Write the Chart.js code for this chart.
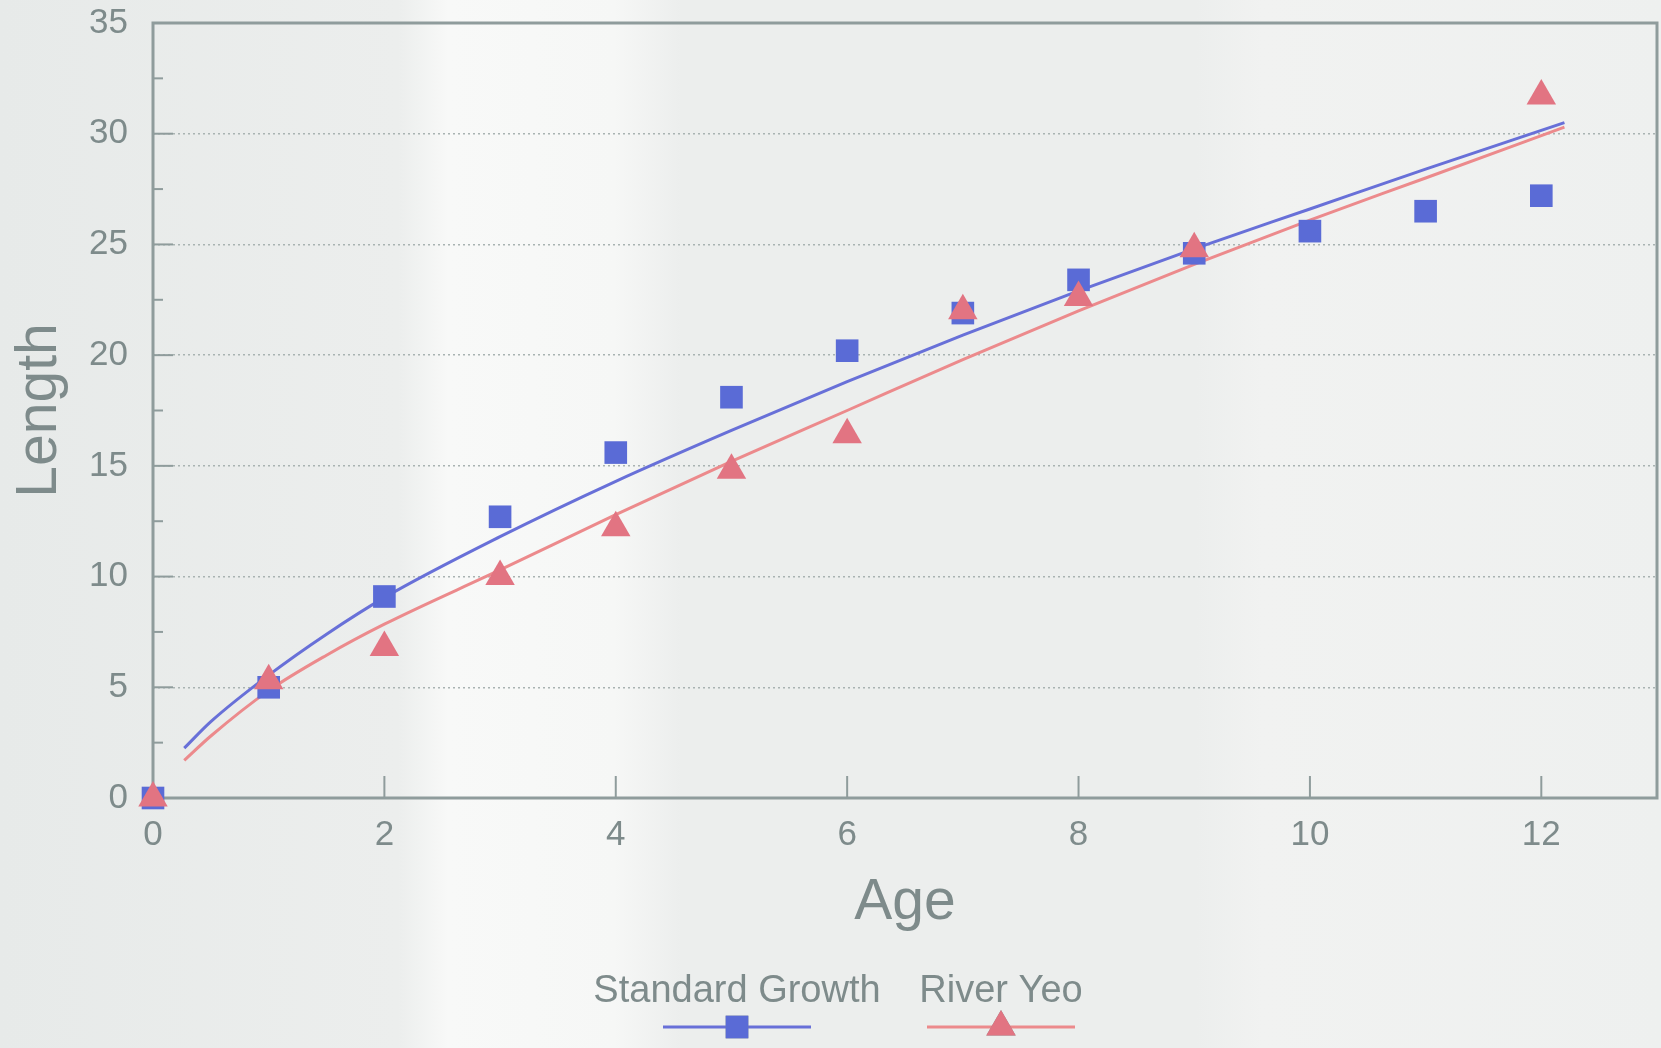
<!DOCTYPE html>
<html><head><meta charset="utf-8">
<script src="https://cdn.jsdelivr.net/npm/chart.js@4.4.1/dist/chart.umd.min.js"></script>
<style>html,body{margin:0;padding:0;background:#eceeed;}canvas{display:block}</style>
</head>
<body><canvas id="c" width="1661" height="1048"></canvas>
<script>
// ---- data ----
const ages = [0,1,2,3,4,5,6,7,8,9,10,11,12];
const standardGrowth = [0,5.0,9.1,12.7,15.6,18.1,20.2,21.9,23.4,24.6,25.6,26.5,27.2];
const riverYeoAges = [0,1,2,3,4,5,6,7,8,9,12];
const riverYeo = [0,5.3,6.8,10.0,12.2,14.8,16.4,22.0,22.6,24.8,31.7];
const fitAges = [0.27,0.5,1,1.5,2,3,4,5,6,7,8,9,10,11,12.2];
const standardFit = [2.25,3.45,5.55,7.4,9.05,11.8,14.3,16.6,18.8,20.9,22.9,24.8,26.6,28.4,30.5];
const riverYeoFit = [1.7,2.8,4.85,6.45,7.85,10.3,12.8,15.2,17.5,19.8,22.0,24.1,26.1,28.0,30.3];
const xTicks = [0,2,4,6,8,10,12];
const yTicks = [0,5,10,15,20,25,30,35];
const seriesNames = ['Standard Growth','River Yeo'];
const xTitle = 'Age';
const yTitle = 'Length';

// ---- styles ----
const TEXT = '#7e8b8b';
const FRAME = '#8f9c9c';
const GRID = '#a9b3b2';
const BLUE_PT = '#5a6bd6';
const RED_PT = '#e27482';
const BLUE_LN = '#6870d8';
const RED_LN = '#ec8a8c';
const FONT = '"Liberation Sans", Arial, Helvetica, sans-serif';

const pts = (xs, ys) => xs.map((x, i) => ({x, y: ys[i]}));

const bgPlugin = {
  id: 'bg',
  beforeDraw(chart) {
    const {ctx, width, height} = chart;
    const g = ctx.createLinearGradient(0, 0, width, 0);
    g.addColorStop(0, '#e7eae9');
    g.addColorStop(0.24, '#eceeed');
    g.addColorStop(0.27, '#f8f9f8');
    g.addColorStop(0.37, '#f6f7f6');
    g.addColorStop(0.41, '#eceeed');
    g.addColorStop(0.72, '#eceeed');
    g.addColorStop(0.76, '#f1f2f1');
    g.addColorStop(1, '#eef0ef');
    ctx.save();
    ctx.fillStyle = g;
    ctx.fillRect(0, 0, width, height);
    ctx.restore();
  }
};

const framePlugin = {
  id: 'frame',
  beforeDatasetsDraw(chart) {
    const {ctx, chartArea: a, scales: {x, y}} = chart;
    ctx.save();
    ctx.strokeStyle = FRAME;
    ctx.lineWidth = 3;
    ctx.strokeRect(a.left, a.top, a.right - a.left, a.bottom - a.top);
    ctx.lineWidth = 2;
    yTicks.forEach((v, i) => {
      if (v > 0 && v < 35) {
        const py = y.getPixelForValue(v);
        ctx.beginPath(); ctx.moveTo(a.left, py); ctx.lineTo(a.left + 20, py); ctx.stroke();
      }
      if (i < yTicks.length - 1) {
        const pm = y.getPixelForValue((v + yTicks[i + 1]) / 2);
        ctx.beginPath(); ctx.moveTo(a.left, pm); ctx.lineTo(a.left + 10, pm); ctx.stroke();
      }
    });
    xTicks.forEach(v => {
      if (v > 0) {
        const px = x.getPixelForValue(v);
        ctx.beginPath(); ctx.moveTo(px, a.bottom); ctx.lineTo(px, a.bottom - 22); ctx.stroke();
      }
    });
    ctx.restore();
  }
};

const legendPlugin = {
  id: 'customLegend',
  afterDraw(chart) {
    const {ctx} = chart;
    const entries = [
      {cx: 737, ds: chart.data.datasets[1], line: chart.data.datasets[3]},
      {cx: 1001, ds: chart.data.datasets[0], line: chart.data.datasets[2]}
    ];
    ctx.save();
    entries.forEach(e => {
      ctx.fillStyle = TEXT;
      ctx.font = '38px ' + FONT;
      ctx.textAlign = 'center';
      ctx.textBaseline = 'middle';
      ctx.fillText(e.ds.label, e.cx, 992);
      ctx.strokeStyle = e.line.borderColor;
      ctx.lineWidth = 3;
      ctx.beginPath(); ctx.moveTo(e.cx - 74, 1027); ctx.lineTo(e.cx + 74, 1027); ctx.stroke();
      Chart.helpers.drawPoint(ctx, {pointStyle: e.ds.pointStyle, radius: e.ds.pointRadius, borderWidth: 0, rotation: 0}, e.cx, 1027);
      ctx.fillStyle = e.ds.backgroundColor;
      ctx.fill();
    });
    ctx.restore();
  }
};

new Chart(document.getElementById('c'), {
  type: 'scatter',
  data: {
    datasets: [
      {label: seriesNames[1], data: pts(riverYeoAges, riverYeo), pointStyle: 'triangle', pointRadius: 17,
       backgroundColor: RED_PT, pointBorderWidth: 0, borderWidth: 0, showLine: false, order: 0, clip: false},
      {label: seriesNames[0], data: pts(ages, standardGrowth), pointStyle: 'rect', pointRadius: 16,
       backgroundColor: BLUE_PT, pointBorderWidth: 0, borderWidth: 0, showLine: false, order: 1, clip: false},
      {label: seriesNames[1] + ' fit', type: 'line', data: pts(fitAges, riverYeoFit), borderColor: RED_LN, borderWidth: 3,
       pointRadius: 0, showLine: true, fill: false, cubicInterpolationMode: 'monotone', order: 2},
      {label: seriesNames[0] + ' fit', type: 'line', data: pts(fitAges, standardFit), borderColor: BLUE_LN, borderWidth: 3,
       pointRadius: 0, showLine: true, fill: false, cubicInterpolationMode: 'monotone', order: 3}
    ]
  },
  options: {
    responsive: false,
    devicePixelRatio: 1,
    animation: false,
    layout: {autoPadding: false, padding: {top: 23, right: 4, bottom: 98, left: 0}},
    plugins: {legend: {display: false}, tooltip: {enabled: false}},
    scales: {
      x: {
        type: 'linear', min: 0, max: 13,
        afterBuildTicks: s => { s.ticks = xTicks.map(v => ({value: v})); },
        afterFit: s => { s.height = 1048 - 98 - 798; s.paddingLeft = 0; s.paddingRight = 0; },
        grid: {display: false, drawTicks: false},
        border: {display: false},
        ticks: {color: TEXT, font: {family: FONT, size: 35}, padding: 16, maxRotation: 0},
        title: {display: true, text: xTitle, color: TEXT, font: {family: FONT, size: 57}, padding: {top: 0, bottom: 13}}
      },
      y: {
        type: 'linear', min: 0, max: 35,
        afterBuildTicks: s => { s.ticks = yTicks.map(v => ({value: v})); },
        afterFit: s => { s.width = 153; s.paddingTop = 0; s.paddingBottom = 0; },
        grid: {drawTicks: false, lineWidth: 1.5,
               color: c => (c.tick && c.tick.value > 0 && c.tick.value < 35) ? GRID : 'rgba(0,0,0,0)'},
        border: {display: false, dash: [2, 3]},
        ticks: {color: TEXT, font: {family: FONT, size: 35}, padding: 25},
        title: {display: true, text: yTitle, color: TEXT, font: {family: FONT, size: 57}, padding: {top: 6, bottom: 0}}
      }
    }
  },
  plugins: [bgPlugin, framePlugin, legendPlugin]
});
</script>
</body></html>
